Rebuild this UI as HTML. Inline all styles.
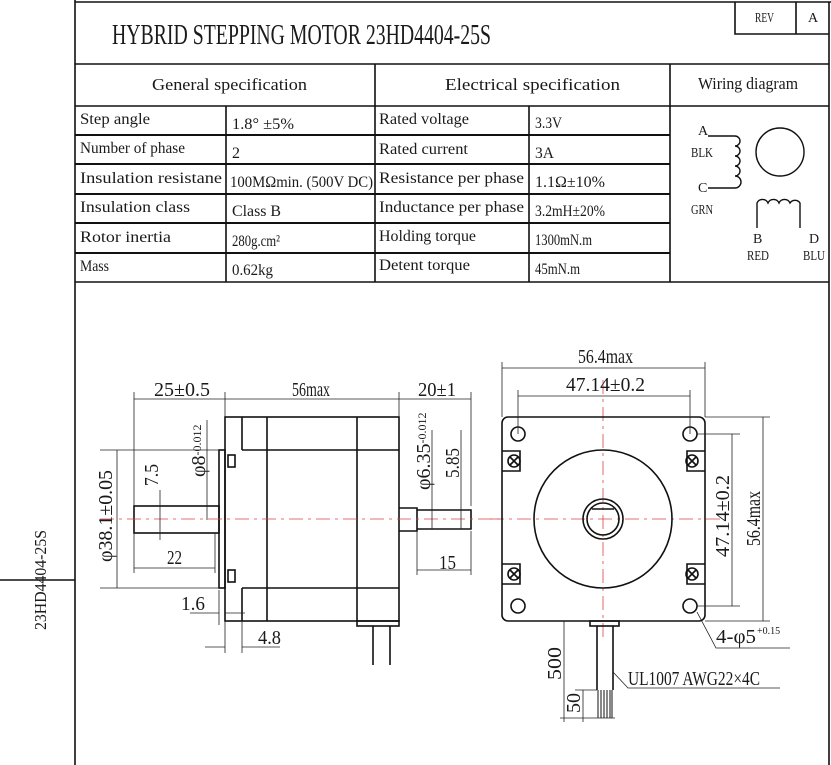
<!DOCTYPE html>
<html><head><meta charset="utf-8"><style>
html,body{margin:0;padding:0;background:#fff}
svg{display:block}
text{font-family:"Liberation Serif",serif;fill:#1a1a1a}
</style></head><body>
<svg width="831" height="765" viewBox="0 0 831 765" xmlns="http://www.w3.org/2000/svg">
<g stroke="#111" fill="none" stroke-width="1.6">
<path d="M75 0V765M75 2H831M829 2V765M75 64H829M75 106H829M75 282H829"/>
<path d="M735 2V34H829M796 2V34"/>
<path d="M375 64V282M670 64V282M226 106V282M529 106V282"/>
<path d="M75 135H670M75 164H670M75 194H670M75 223H670M75 253H670" stroke-width="2"/>
<path d="M0 580H75"/>
</g>
<text x="112" y="44" font-size="28" textLength="379" lengthAdjust="spacingAndGlyphs">HYBRID STEPPING MOTOR  23HD4404-25S</text>
<text x="755" y="22" font-size="14" textLength="19" lengthAdjust="spacingAndGlyphs">REV</text><text x="808" y="22" font-size="14">A</text>
<g font-size="17">
<text x="152" y="90" textLength="155" lengthAdjust="spacingAndGlyphs">General  specification</text>
<text x="445" y="90" textLength="175" lengthAdjust="spacingAndGlyphs">Electrical  specification</text>
<text x="698" y="89" textLength="100" lengthAdjust="spacingAndGlyphs">Wiring diagram</text>
</g>
<g font-size="16">
<text x="80" y="124" textLength="70" lengthAdjust="spacingAndGlyphs">Step angle</text><text x="232" y="129" textLength="62" lengthAdjust="spacingAndGlyphs">1.8°  ±5%</text>
<text x="80" y="153" textLength="105" lengthAdjust="spacingAndGlyphs">Number of phase</text><text x="232" y="158">2</text>
<text x="80" y="183" textLength="142" lengthAdjust="spacingAndGlyphs">Insulation resistane</text><text x="230" y="187" textLength="143" lengthAdjust="spacingAndGlyphs">100MΩmin. (500V DC)</text>
<text x="80" y="212" textLength="110" lengthAdjust="spacingAndGlyphs">Insulation class</text><text x="232" y="216" textLength="49" lengthAdjust="spacingAndGlyphs">Class B</text>
<text x="80" y="242" textLength="91" lengthAdjust="spacingAndGlyphs">Rotor inertia</text><text x="232" y="246" textLength="48" lengthAdjust="spacingAndGlyphs">280g.cm²</text>
<text x="80" y="271" textLength="29" lengthAdjust="spacingAndGlyphs">Mass</text><text x="232" y="275" textLength="41" lengthAdjust="spacingAndGlyphs">0.62kg</text>
<text x="379" y="124" textLength="90" lengthAdjust="spacingAndGlyphs">Rated voltage</text><text x="535" y="128" textLength="27" lengthAdjust="spacingAndGlyphs">3.3V</text>
<text x="379" y="154" textLength="89" lengthAdjust="spacingAndGlyphs">Rated current</text><text x="535" y="158" textLength="19" lengthAdjust="spacingAndGlyphs">3A</text>
<text x="379" y="183" textLength="145" lengthAdjust="spacingAndGlyphs">Resistance per phase</text><text x="535" y="187" textLength="70" lengthAdjust="spacingAndGlyphs">1.1Ω±10%</text>
<text x="379" y="212" textLength="145" lengthAdjust="spacingAndGlyphs">Inductance per phase</text><text x="535" y="216" textLength="70" lengthAdjust="spacingAndGlyphs">3.2mH±20%</text>
<text x="379" y="241" textLength="97" lengthAdjust="spacingAndGlyphs">Holding torque</text><text x="535" y="245" textLength="57" lengthAdjust="spacingAndGlyphs">1300mN.m</text>
<text x="379" y="270" textLength="91" lengthAdjust="spacingAndGlyphs">Detent torque</text><text x="535" y="274" textLength="45" lengthAdjust="spacingAndGlyphs">45mN.m</text>
</g>
<!-- wiring -->
<g stroke="#111" fill="none" stroke-width="1.4">
<path d="M708 136H735M708 188H735"/>
<path d="M735 136a5 5 0 0 1 0 10a5 5 0 0 1 0 10a5 5 0 0 1 0 10a5 5 0 0 1 0 10a5 5 0 0 1 0 12"/>
<circle cx="780" cy="152" r="24"/>
<path d="M757 228V203a6 6 0 0 1 11 0a6 6 0 0 1 11 0a6 6 0 0 1 11 0a6 6 0 0 1 10 0V228"/>
</g>
<g font-size="14">
<text x="698" y="135">A</text><text x="691" y="157" textLength="22" lengthAdjust="spacingAndGlyphs">BLK</text>
<text x="698" y="192">C</text><text x="691" y="214" textLength="22" lengthAdjust="spacingAndGlyphs">GRN</text>
<text x="753" y="243">B</text><text x="747" y="260" textLength="22" lengthAdjust="spacingAndGlyphs">RED</text>
<text x="809" y="243">D</text><text x="803" y="260" textLength="22" lengthAdjust="spacingAndGlyphs">BLU</text>
</g>
<text transform="translate(46,580) rotate(-90)" font-size="17" text-anchor="middle" textLength="100" lengthAdjust="spacingAndGlyphs">23HD4404-25S</text>
<!-- side view -->
<g stroke="#111" fill="none" stroke-width="1.6">
<rect x="225" y="417" width="174" height="204"/>
<path d="M242 417V450M242 588V621M267 417V621M357 417V621M242 450H399M242 588H399"/>
<rect x="219" y="450" width="6" height="138"/>
<rect x="228" y="455" width="7" height="12"/><rect x="228" y="570" width="7" height="12"/>
<rect x="134" y="506" width="85" height="27"/>
<path d="M399 508H417V531H399M417 510H471V529H417"/>
<rect x="357" y="621" width="42" height="5"/>
<path d="M373 626V665M390 626V665"/>
</g>
<g stroke="#d44" stroke-width="0.8" stroke-dasharray="14 5 3 5"><path d="M100 519H500"/><path d="M490 519H720M603 380V640"/></g>
<g stroke="#222" fill="none" stroke-width="0.8">
<path d="M134 392V506M225 392V417M399 392V417M471 392V506M134 399H471"/>
<path d="M100 450H219M100 588H219M117 450V588"/>
<path d="M160 490V540M207 420V520M134 533V573M215 533V573M134 568H215"/>
<path d="M219 590V625M225 621V653M242 621V653M190 613H219M225 613H245M205 647H225M242 647H280"/>
<path d="M432 430V529M461 430V529M417 531V575M471 531V575M417 570H471"/>
</g>
<g font-size="20">
<text x="154" y="396" textLength="56" lengthAdjust="spacingAndGlyphs">25±0.5</text><text x="292" y="396" textLength="38" lengthAdjust="spacingAndGlyphs">56max</text><text x="418" y="396" textLength="38" lengthAdjust="spacingAndGlyphs">20±1</text>
<text x="167" y="564" textLength="15" lengthAdjust="spacingAndGlyphs">22</text><text x="439" y="569" textLength="17" lengthAdjust="spacingAndGlyphs">15</text>
<text x="181" y="610" textLength="24" lengthAdjust="spacingAndGlyphs">1.6</text><text x="258" y="644" textLength="23" lengthAdjust="spacingAndGlyphs">4.8</text>
<text transform="translate(112,562) rotate(-90)" textLength="92" lengthAdjust="spacingAndGlyphs">φ38.1±0.05</text>
<text transform="translate(158,486) rotate(-90)" textLength="22" lengthAdjust="spacingAndGlyphs">7.5</text>
<text transform="translate(205,477) rotate(-90)">φ8<tspan font-size="12" dy="-4">-0.012</tspan></text>
<text transform="translate(430,490) rotate(-90)">φ6.35<tspan font-size="12" dy="-4">-0.012</tspan></text>
<text transform="translate(459,478) rotate(-90)" textLength="30" lengthAdjust="spacingAndGlyphs">5.85</text>
</g>
<!-- front view -->
<g stroke="#111" fill="none" stroke-width="1.6">
<rect x="502" y="417" width="203" height="204" rx="6"/>
<circle cx="603" cy="519" r="69"/>
<circle cx="603" cy="519" r="20"/><circle cx="603" cy="519" r="16"/>
<path d="M592 509H614"/>
<circle cx="518" cy="434" r="7"/><circle cx="690" cy="434" r="7"/><circle cx="518" cy="606" r="7"/><circle cx="690" cy="606" r="7"/>
<circle cx="514" cy="461" r="6"/><circle cx="692" cy="461" r="6"/><circle cx="514" cy="574" r="6"/><circle cx="692" cy="574" r="6"/>
<path d="M510 457l8 8M518 457l-8 8M688 457l8 8M696 457l-8 8M510 570l8 8M518 570l-8 8M688 570l8 8M696 570l-8 8"/>
<path d="M502 451H520V471H502M705 451H687V471H705M502 564H520V584H502M705 564H687V584H705"/>
<rect x="590" y="621" width="29" height="5"/>
<path d="M597 626V690M613 626V690"/>
<path d="M598 690V718M601 690V718M604 690V718M607 690V718M610 690V718M612 690V718" stroke-width="1"/>
</g>
<g stroke="#222" fill="none" stroke-width="0.8">
<path d="M502 362V417M705 362V417M502 368H705M518 390V434M690 390V434M518 396H690"/>
<path d="M705 417H770M697 434H740M697 606H740M705 621H770M732 434V606M763 417V621"/>
<path d="M564 621V722M583 690V722M560 718H615M575 690H597"/>
<path d="M697 612L716 648H790M613 672L628 688H780"/>
</g>
<g font-size="20">
<text x="578" y="363" textLength="55" lengthAdjust="spacingAndGlyphs">56.4max</text><text x="566" y="391" textLength="79" lengthAdjust="spacingAndGlyphs">47.14±0.2</text>
<text transform="translate(729,557) rotate(-90)" textLength="82" lengthAdjust="spacingAndGlyphs">47.14±0.2</text>
<text transform="translate(760,546) rotate(-90)" textLength="55" lengthAdjust="spacingAndGlyphs">56.4max</text>
<text x="716" y="643" textLength="40" lengthAdjust="spacingAndGlyphs">4-φ5</text><text x="757" y="634" font-size="10">+0.15</text>
<text x="628" y="685" textLength="132" lengthAdjust="spacingAndGlyphs">UL1007 AWG22×4C</text>
<text transform="translate(561,680) rotate(-90)" textLength="33" lengthAdjust="spacingAndGlyphs">500</text>
<text transform="translate(580,713) rotate(-90)" textLength="20" lengthAdjust="spacingAndGlyphs">50</text>
</g>
</svg>
</body></html>
